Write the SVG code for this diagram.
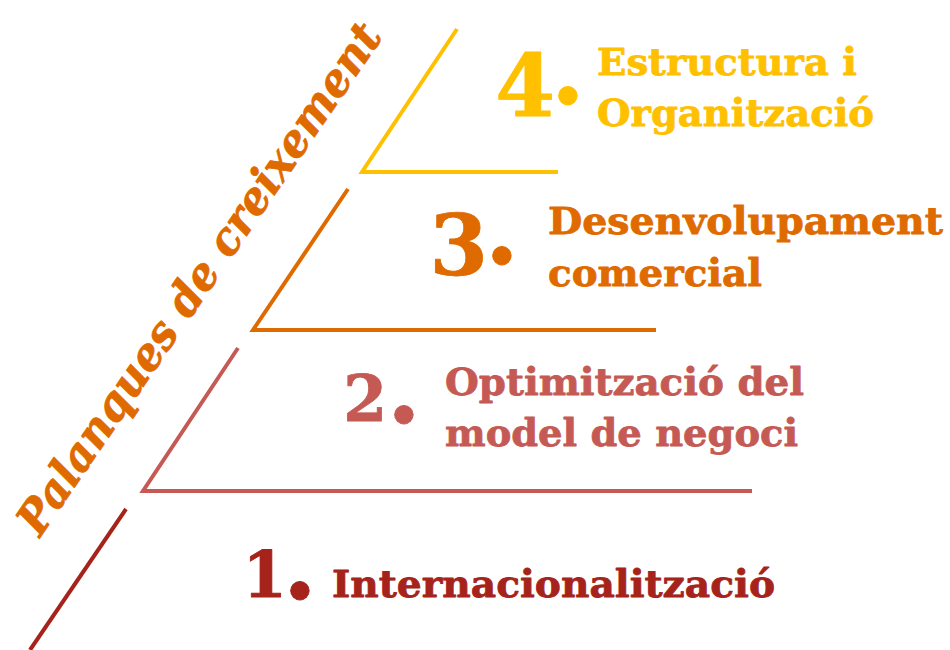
<svg xmlns="http://www.w3.org/2000/svg" width="950" height="650" viewBox="0 0 950 650">
<defs>
<style>
.ln{fill:none;stroke-width:4;stroke-linejoin:miter;stroke-linecap:butt}
.t{font-family:"DejaVu Serif","Liberation Serif",serif;font-weight:bold;stroke-width:0.8;stroke-linejoin:round}
.lbl{font-size:38px}
.dot{font-size:100px;text-anchor:middle}
.num{text-anchor:end}
.c4{fill:#FFC000;stroke:#FFC000}.s4{stroke:#FFC000}
.c3{fill:#DF6A00;stroke:#DF6A00}.s3{stroke:#DF6A00}
.c2{fill:#C55A55;stroke:#C55A55}.s2{stroke:#C55A55}
.c1{fill:#A5231A;stroke:#A5231A}.s1{stroke:#A5231A}
</style>
<linearGradient id="fade" x1="0" y1="0" x2="1" y2="0">
<stop offset="0" stop-color="#F2DCE0" stop-opacity="0"/>
<stop offset="1" stop-color="#F2DCE0" stop-opacity="1"/>
</linearGradient>
</defs>
<rect width="950" height="650" fill="#FFFFFF"/>
<g id="connectors">
<polyline class="ln s4" points="457,29 362,172 558,172"/>
<polyline class="ln s3" points="348,189 253,330 656,330"/>
<polyline class="ln s2" points="238,348 143,491 752,491"/>
<line class="ln s1" x1="126" y1="509" x2="30" y2="650"/>
<line x1="705" y1="649" x2="850" y2="649" stroke="url(#fade)" stroke-width="2"/>
</g>
<g id="title">
<text class="t c3" font-style="italic" font-size="45" transform="translate(40,538) rotate(-55.6)" x="0" y="0" textLength="608" lengthAdjust="spacingAndGlyphs">Palanques de creixement</text>
</g>
<g id="step4">
<text class="t c4 num" x="555" y="116" font-size="86">4</text>
<text class="t c4 dot" x="568" y="104">.</text>
<text class="t c4 lbl" x="597" y="75" textLength="260" lengthAdjust="spacingAndGlyphs">Estructura i</text>
<text class="t c4 lbl" x="597" y="126" textLength="277" lengthAdjust="spacingAndGlyphs">Organització</text>
</g>
<g id="step3">
<text class="t c3 num" x="488" y="275" font-size="84">3</text>
<text class="t c3 dot" x="502" y="264">.</text>
<text class="t c3 lbl" x="548" y="234" textLength="395" lengthAdjust="spacingAndGlyphs">Desenvolupament</text>
<text class="t c3 lbl" x="548" y="286" textLength="214" lengthAdjust="spacingAndGlyphs">comercial</text>
</g>
<g id="step2">
<text class="t c2 num" x="387" y="421" font-size="63">2</text>
<text class="t c2 dot" x="404" y="423">.</text>
<text class="t c2 lbl" x="445" y="395" textLength="359" lengthAdjust="spacingAndGlyphs">Optimització del</text>
<text class="t c2 lbl" x="445" y="446" textLength="353" lengthAdjust="spacingAndGlyphs">model de negoci</text>
</g>
<g id="step1">
<text class="t c1 num" x="287" y="597" font-size="64">1</text>
<text class="t c1 dot" x="300" y="599">.</text>
<text class="t c1 lbl" x="332" y="597" textLength="443" lengthAdjust="spacingAndGlyphs">Internacionalització</text>
</g>
</svg>
